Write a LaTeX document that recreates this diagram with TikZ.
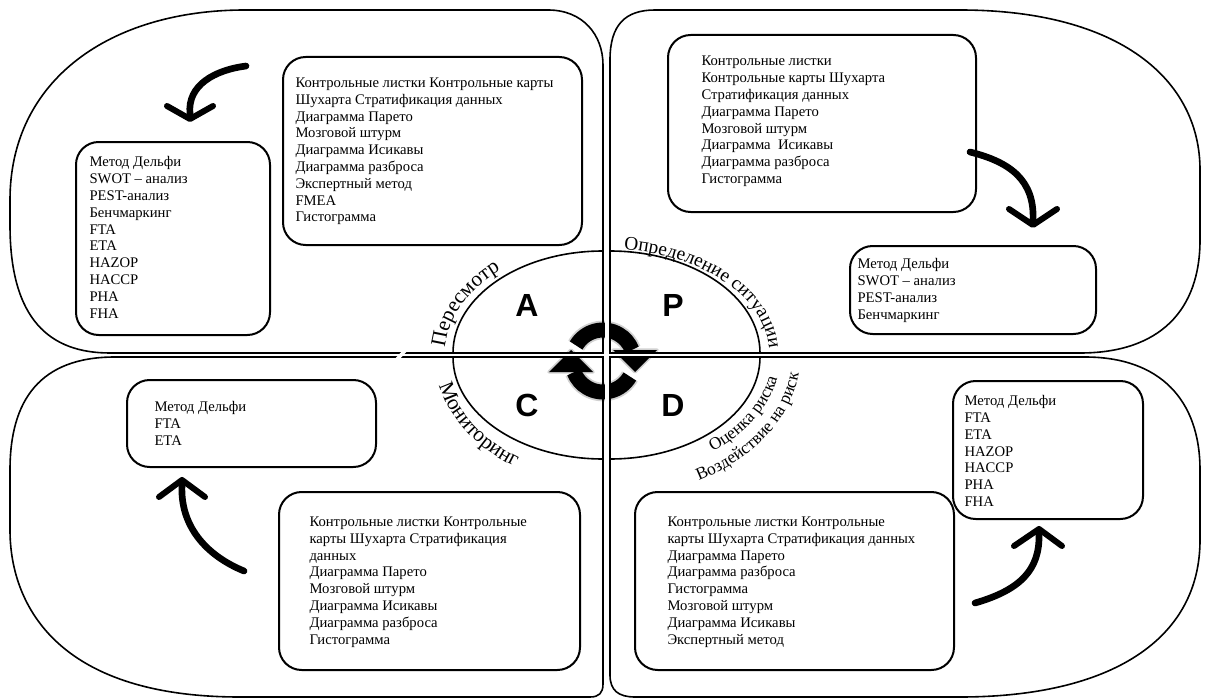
\documentclass[tikz,border=0pt]{standalone}
\usepackage{fontspec}
\setmainfont{Liberation Serif}
\newfontfamily\phasefont{Liberation Sans}
\usepackage{tikz}
\usetikzlibrary{calc}
\usetikzlibrary{decorations.text}
\tikzset{every picture/.style={line width=0.75pt}}
\newcommand{\arcfont}{\fontsize{16}{16}\selectfont}
\newcommand{\arcmidfont}{\fontsize{14.5}{14.5}\selectfont}
\newcommand{\arcsmallfont}{\fontsize{13}{13}\selectfont}
\tikzset{
  panel/.style={line width=1.2pt},
  listbox/.style={line width=1.5pt, rounded corners=17pt},
  listtext/.style={anchor=west, align=left, inner sep=0pt, font=\fontsize{11}{12.6}\selectfont},
  phase/.style={inner sep=0pt, font=\phasefont\bfseries\fontsize{24}{24}\selectfont},
  swoosh/.style={line width=5pt, line cap=round, line join=round},
  swooshhead/.style={line width=4.5pt, line cap=round, line join=round},
  cycleband/.style={line width=11.25pt},
}

\begin{document}
\begin{tikzpicture}[x=0.75pt,y=0.75pt,yscale=-1,xscale=1]
\useasboundingbox (0,0) rectangle (1207,699);
\coordinate (ctr) at (606.5,355);

%Shape: Cycle icon
\begin{scope}[shift={(603,361)}]
\draw[cycleband, line width=14pt, black!18] (210:31) arc[start angle=210, end angle=339, radius=31];
\draw[cycleband, line width=14pt, black!18] (30:31) arc[start angle=30, end angle=159, radius=31];
\filldraw[black!18, line width=2.5pt, line join=round] (10,-11) -- (54,-11) -- (32,11) -- cycle;
\filldraw[black!18, line width=2.5pt, line join=round] (-10,11) -- (-54,11) -- (-32,-11) -- cycle;
\draw[cycleband] (210:31) arc[start angle=210, end angle=339, radius=31];
\fill (10,-11) -- (54,-11) -- (32,11) -- cycle;
\draw[cycleband] (30:31) arc[start angle=30, end angle=159, radius=31];
\fill (-10,11) -- (-54,11) -- (-32,-11) -- cycle;
\end{scope}
%Straight Lines: joint gaps across the icon
\fill[white] (604.5,310) rectangle (608.5,415);
\fill[white] (545,354.3) rectangle (665,355.8);

%Shape: Panel top left
\draw[panel] (10,200) .. controls (10,80) and (110,10) .. (245,10) -- (548,10) .. controls (583,10) and (603,35) .. (603,65) -- (603,353) -- (110,353) .. controls (50,353) and (10,320) .. (10,225) -- cycle;
%Shape: Panel top right
\draw[panel] (610,60) .. controls (610,25) and (625,10) .. (655,10) -- (960,10) .. controls (1120,10) and (1200,80) .. (1200,170) -- (1200,240) .. controls (1200,310) and (1160,353) .. (1080,353) -- (610,353) -- cycle;
%Shape: Panel bottom left
\draw[panel] (115,357) -- (603,357) -- (603,684) .. controls (603,693) and (599,697) .. (590,697) -- (240,697) .. controls (53,697) and (10,601) .. (10,530) -- (10,470) .. controls (10,400) and (40,357) .. (115,357) -- cycle;
%Shape: Panel bottom right
\draw[panel] (610,357) -- (1085,357) .. controls (1160,357) and (1200,400) .. (1200,470) -- (1200,540) .. controls (1200,640) and (1110,697) .. (960,697) -- (635,697) .. controls (618,697) and (610,690) .. (610,675) -- cycle;
%Straight Lines: break under the label
\fill[white] (393,361) -- (398,361) -- (409,349) -- (404,349) -- cycle;

%Shape: Ellipse quarters
\draw[panel] (453,353) arc[start angle=180, end angle=270, x radius=150, y radius=102];
\draw[panel] (610,251) arc[start angle=270, end angle=360, x radius=150, y radius=102];
\draw[panel] (453,357) arc[start angle=180, end angle=90, x radius=150, y radius=102];
\draw[panel] (760,357) arc[start angle=0, end angle=90, x radius=150, y radius=102];

%Shape: Rounded Rectangles
\draw[listbox] (76,142) rectangle (270,335);
\draw[listbox] (283,57) rectangle (582,245);
\draw[listbox] (668,35) rectangle (976,212);
\draw[listbox] (850,246) rectangle (1096,334);
\draw[listbox] (127,380) rectangle (376,467);
\draw[listbox] (279,492) rectangle (580,670);
\draw[listbox] (953,381) rectangle (1143,519);
\draw[listbox] (635,492) rectangle (954,670);

%Curve Lines
\draw[swoosh] (246,66) .. controls (215,70) and (187,85) .. (190,114);
\draw[swooshhead] (167,106) -- (190,119) -- (213,106);
%Curve Lines
\draw[swoosh] (970,152) .. controls (1010,162) and (1035,180) .. (1033,221);
\draw[swooshhead] (1009,209) -- (1033,225) -- (1057,209);
%Curve Lines
\draw[swoosh] (244,571) .. controls (205,555) and (180,525) .. (182,485);
\draw[swooshhead] (159,497) -- (182,480) -- (205,497);
%Curve Lines
\draw[swoosh] (975,603) .. controls (1020,590) and (1040,570) .. (1039,534);
\draw[swooshhead] (1014,546) -- (1039,529) -- (1062,546);

% Text Node
\node[listtext] (tlA) at (89,237.5) {Метод Дельфи\\SWOT – анализ\\PEST-анализ\\Бенчмаркинг\\FTA\\ETA\\HAZOP\\HACCP\\PHA\\FHA};
% Text Node
\node[listtext] (tlB) at (295,151.5) {Контрольные листки Контрольные карты\\Шухарта Стратификация данных\\Диаграмма Парето\\Мозговой штурм\\Диаграмма Исикавы\\Диаграмма разброса\\Экспертный метод\\FMEA\\Гистограмма};
% Text Node
\node[listtext] (trA) at (701,121.5) {Контрольные листки\\Контрольные карты Шухарта\\Стратификация данных\\Диаграмма Парето\\Мозговой штурм\\Диаграмма\ \ Исикавы\\Диаграмма разброса\\Гистограмма};
% Text Node
\node[listtext] (trB) at (857,290.5) {Метод Дельфи\\SWOT – анализ\\PEST-анализ\\Бенчмаркинг};
% Text Node
\node[listtext] (blA) at (154,423.5) {Метод Дельфи\\FTA\\ETA};
% Text Node
\node[listtext] (blB) at (309,582) {Контрольные листки Контрольные\\карты Шухарта Стратификация\\данных\\Диаграмма Парето\\Мозговой штурм\\Диаграмма Исикавы\\Диаграмма разброса\\Гистограмма};
% Text Node
\node[listtext] (brA) at (964,451) {Метод Дельфи\\FTA\\ETA\\HAZOP\\HACCP\\PHA\\FHA};
% Text Node
\node[listtext] (brB) at (667,582) {Контрольные листки Контрольные\\карты Шухарта Стратификация данных\\Диаграмма Парето\\Диаграмма разброса\\Гистограмма\\Мозговой штурм\\Диаграмма Исикавы\\Экспертный метод};

% Text Node
\node[phase] (lblA) at (527,305) {A};
\node[phase] (lblP) at (673,305) {P};
\node[phase] (lblC) at (527,405) {C};
\node[phase] (lblD) at (673,405) {D};

% Text along the ring
\path[decorate, decoration={text along path, text align=center, text={|\arcfont|Пересмотр}}] (ctr) ++(149:162 and 112) arc[start angle=149, end angle=256, x radius=162, y radius=112];
\path[decorate, decoration={text along path, text align=center, text={|\arcmidfont|Определение ситуации}}] (ctr) ++(266:163 and 106) arc[start angle=266, end angle=372, x radius=163, y radius=106];
\path[decorate, decoration={text along path, text align=center, text={|\arcfont|Мониторинг}}] (ctr) ++(196:172 and 132) arc[start angle=196, end angle=99, x radius=172, y radius=132];
\path[decorate, decoration={text along path, text align=center, text={|\arcsmallfont|Оценка риска}}] (ctr) ++(71:174 and 122) arc[start angle=71, end angle=-14, x radius=174, y radius=122];
\path[decorate, decoration={text along path, text align=center, text={|\arcsmallfont|Воздействие на риск}}] (ctr) ++(78:194 and 143) arc[start angle=78, end angle=-14, x radius=194, y radius=143];

\end{tikzpicture}
\end{document}
